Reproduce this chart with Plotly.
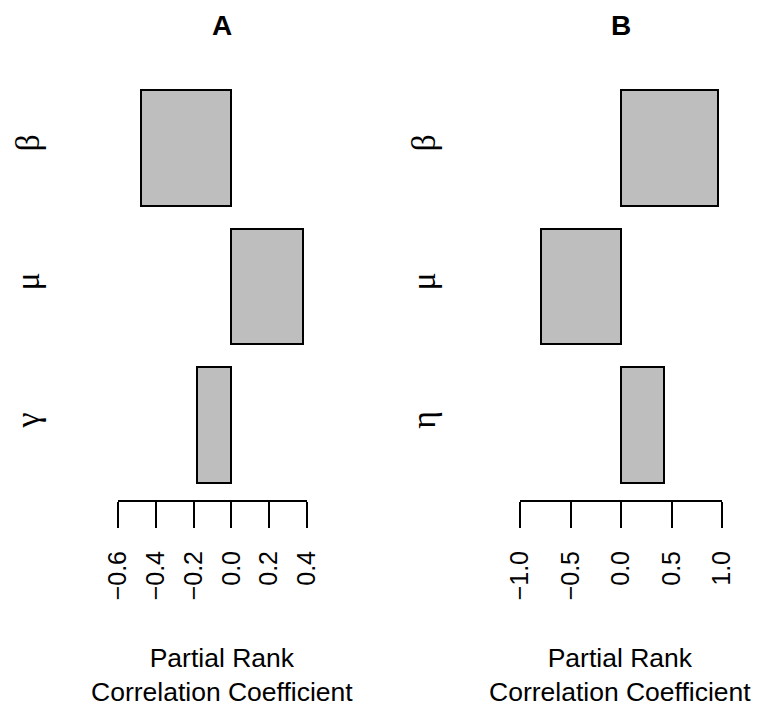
import plotly.graph_objects as go

# Panel A: partial rank correlation coefficients
params_a = ["β", "μ", "γ"]
prcc_a = [-0.48, 0.38, -0.18]
ticks_a = [-0.6, -0.4, -0.2, 0.0, 0.2, 0.4]

# Panel B
params_b = ["β", "μ", "η"]
prcc_b = [0.96, -0.79, 0.43]
ticks_b = [-1.0, -0.5, 0.0, 0.5, 1.0]

# the page body adds an 8px offset, so the figure is drawn 8px smaller
OFF = 8
W, H = 762 - OFF, 711 - OFF
BAR_FILL = "#bebebe"
LABEL_FONT = dict(family="Liberation Sans, Arial", size=25, color="black")
TITLE_FONT = dict(family="Liberation Sans, Arial", size=26.5, color="black")
GREEK_FONT = dict(family="Liberation Serif, Times New Roman", size=34, color="black")


def px_x(p):
    return (p - OFF) / W


def px_y(p):
    return 1 - (p - OFF) / H


fig = go.Figure()

fig.add_trace(go.Bar(
    x=prcc_a, y=params_a, orientation="h", width=1 / 1.2,
    marker=dict(color=BAR_FILL, line=dict(color="black", width=2)),
    xaxis="x", yaxis="y", showlegend=False,
))
fig.add_trace(go.Bar(
    x=prcc_b, y=params_b, orientation="h", width=1 / 1.2,
    marker=dict(color=BAR_FILL, line=dict(color="black", width=2)),
    xaxis="x2", yaxis="y2", showlegend=False,
))

# category centres at px 148 with a pitch of ~138.5 px; plot area 70..500 px
yrange = [(500 - 148) / 138.5, (70 - 148) / 138.5]
ydomain = [px_y(500), px_y(70)]

xaxis_common = dict(
    showgrid=False, zeroline=False, showline=True, linecolor="black", linewidth=2,
    ticks="outside", ticklen=26, tickwidth=2, tickcolor="black",
    tickangle=-90, tickfont=LABEL_FONT, tickformat=".1f", ticklabelstandoff=13,
)
yaxis_common = dict(
    showgrid=False, zeroline=False, showline=False, ticks="",
    tickangle=-90, tickfont=GREEK_FONT, range=yrange, domain=ydomain,
    anchor="free", ticklabelstandoff=0,
)

fig.update_layout(
    width=W, height=H,
    margin=dict(l=0, r=0, t=0, b=0, autoexpand=False),
    paper_bgcolor="white", plot_bgcolor="white",
    bargap=0,
    xaxis=dict(domain=[px_x(118), px_x(307)], range=[-0.6, 0.4],
               tickvals=ticks_a, anchor="y", **xaxis_common),
    xaxis2=dict(domain=[px_x(520), px_x(722)], range=[-1.0, 1.0],
                tickvals=ticks_b, anchor="y2", **xaxis_common),
    yaxis=dict(position=px_x(46), **yaxis_common),
    yaxis2=dict(position=px_x(442), **yaxis_common),
)

# panel titles and axis titles
for xc, letter in [(222, "A"), (621, "B")]:
    fig.add_annotation(x=px_x(xc), y=px_y(8), xref="paper", yref="paper",
                       xanchor="center", yanchor="top",
                       text="<b>%s</b>" % letter, showarrow=False,
                       font=dict(family="Liberation Sans, Arial", size=28, color="black"))
for xc in [222, 620]:
    fig.add_annotation(x=px_x(xc), y=px_y(675), xref="paper", yref="paper",
                       xanchor="center", yanchor="middle",
                       text="Partial Rank<br>Correlation Coefficient", showarrow=False,
                       font=TITLE_FONT)

fig.write_html("out.html")
